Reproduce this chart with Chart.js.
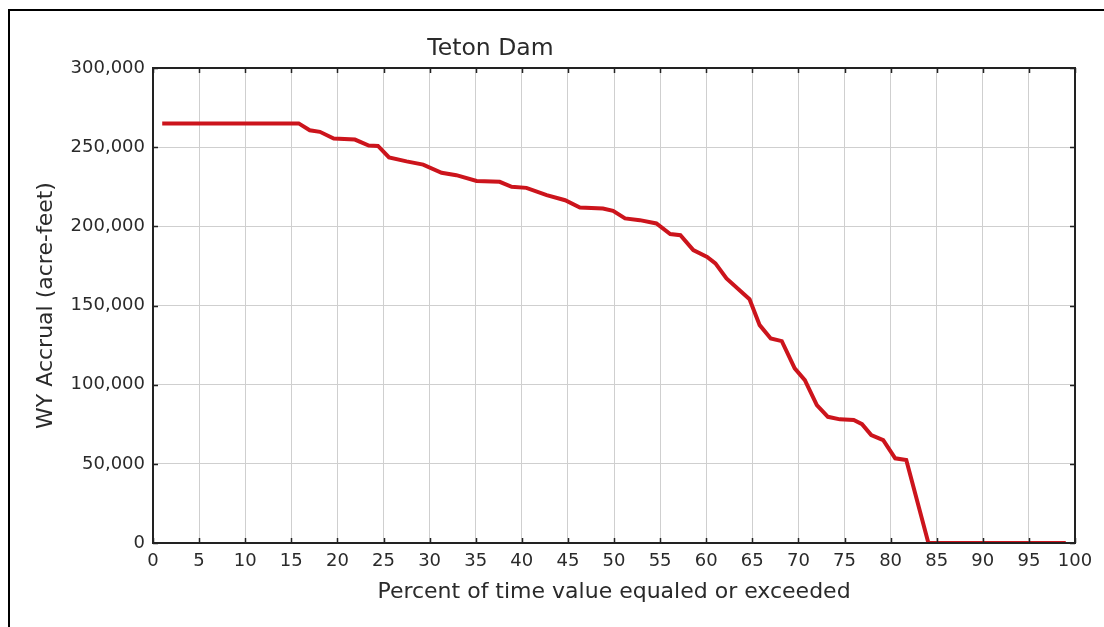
<!DOCTYPE html>
<html>
<head>
<meta charset="utf-8">
<script src="https://cdn.jsdelivr.net/npm/chart.js@4/dist/chart.umd.min.js"></script>
<style>
  html, body { margin: 0; padding: 0; background: #fff; }
  #wrap { width: 1104px; height: 627px; }
</style>
</head>
<body>
<div id="wrap"><canvas id="myChart" width="1104" height="627"></canvas></div>
<script>
// exceedance curve
var pct = [1, 15.8, 17, 18.1, 19.6, 21.9, 23.4, 24.4, 25.6, 27.5, 29.3, 31.3, 32.9, 35.1, 37.6,
  38.9, 40.5, 42.7, 44.7, 46.3, 48.8, 49.9, 51.2, 52.8, 54.6, 56.1, 57.2, 58.6, 60.1, 61,
  62.2, 64.7, 65.8, 67, 68.2, 69.6, 70.7, 72, 73.2, 74.5, 76, 76.9, 77.9, 79.2, 80.5,
  81.7, 84.1, 99];
var accrual = [265000, 265000, 260700, 259700, 255500, 254800, 251000, 250800, 243500, 241000, 239000, 233800, 232300, 228700, 228100,
  225000, 224300, 219700, 216500, 211900, 211300, 209800, 205000, 203900, 201800, 195100, 194400, 185000, 180700, 176600,
  167100, 154000, 137600, 129200, 127500, 110300, 102900, 87100, 79700, 78100, 77700, 75100, 68200, 65000, 53500,
  52400, 0, 0];

var xTicks = [0, 5, 10, 15, 20, 25, 30, 35, 40, 45, 50, 55, 60, 65, 70, 75, 80, 85, 90, 95, 100];
var yTicks = [0, 50000, 100000, 150000, 200000, 250000, 300000];

var font = "'DejaVu Sans', sans-serif";
var ink = '#2a2a2a';

var points = [];
for (var i = 0; i < pct.length; i++) {
  points.push({ x: pct[i], y: accrual[i] });
}

// frame round the plot, matplotlib style inward ticks, outer picture border, title
var framePlugin = {
  id: 'frame',
  afterDraw: function(chart) {
    var ctx = chart.ctx;
    var a = chart.chartArea;
    var xs = chart.scales.x, ys = chart.scales.y;
    ctx.save();
    ctx.strokeStyle = '#222';
    ctx.lineWidth = 1.5;
    ctx.beginPath();
    xTicks.forEach(function(t) {
      var px = Math.round(xs.getPixelForValue(t)) + 0.5;
      ctx.moveTo(px, a.top); ctx.lineTo(px, a.top + 5);
      ctx.moveTo(px, a.bottom); ctx.lineTo(px, a.bottom - 5);
    });
    yTicks.forEach(function(t) {
      var py = Math.round(ys.getPixelForValue(t)) + 0.5;
      ctx.moveTo(a.left, py); ctx.lineTo(a.left + 5, py);
      ctx.moveTo(a.right, py); ctx.lineTo(a.right - 5, py);
    });
    ctx.stroke();
    ctx.lineWidth = 2;
    ctx.strokeRect(a.left, a.top, a.right - a.left, a.bottom - a.top);

    ctx.lineWidth = 2;
    ctx.strokeStyle = '#000';
    ctx.beginPath();
    ctx.moveTo(9, chart.height); ctx.lineTo(9, 10); ctx.lineTo(chart.width, 10);
    ctx.stroke();

    ctx.fillStyle = ink;
    ctx.font = '23.5px ' + font;
    ctx.textAlign = 'center';
    ctx.textBaseline = 'middle';
    ctx.fillText('Teton Dam', a.left + (a.right - a.left) * 0.366, 49);
    ctx.restore();
  }
};

var ctx = document.getElementById('myChart');
var myChart = new Chart(ctx, {
  type: 'line',
  data: {
    datasets: [{
      data: points,
      borderColor: '#cc141c',
      borderWidth: 4,
      pointRadius: 0,
      tension: 0,
      fill: false
    }]
  },
  options: {
    responsive: false,
    animation: false,
    layout: { padding: { left: 29, top: 68, right: 29, bottom: 18 } },
    plugins: {
      legend: { display: false },
      tooltip: { enabled: false }
    },
    scales: {
      x: {
        type: 'linear',
        min: 0,
        max: 100,
        afterFit: function(scale) { scale.height = 66; },
        afterBuildTicks: function(scale) {
          scale.ticks = xTicks.map(function(v) { return { value: v }; });
        },
        grid: { color: '#cfcfcf', lineWidth: 1, drawTicks: false },
        border: { display: false },
        ticks: { color: ink, font: { family: font, size: 18 }, padding: 8, maxRotation: 0 },
        title: {
          display: true,
          text: 'Percent of time value equaled or exceeded',
          color: ink,
          font: { family: font, size: 22 },
          padding: { top: 4, bottom: 4 }
        }
      },
      y: {
        min: 0,
        max: 300000,
        afterFit: function(scale) { scale.width = 124; },
        afterBuildTicks: function(scale) {
          scale.ticks = yTicks.map(function(v) { return { value: v }; });
        },
        grid: { color: '#cfcfcf', lineWidth: 1, drawTicks: false },
        border: { display: false },
        ticks: {
          color: ink,
          font: { family: font, size: 18 },
          padding: 8,
          callback: function(v) { return Number(v).toLocaleString('en-US'); }
        },
        title: {
          display: true,
          text: 'WY Accrual (acre-feet)',
          color: ink,
          font: { family: font, size: 22 },
          padding: { top: 4, bottom: 4 }
        }
      }
    }
  },
  plugins: [framePlugin]
});
</script>
</body>
</html>
